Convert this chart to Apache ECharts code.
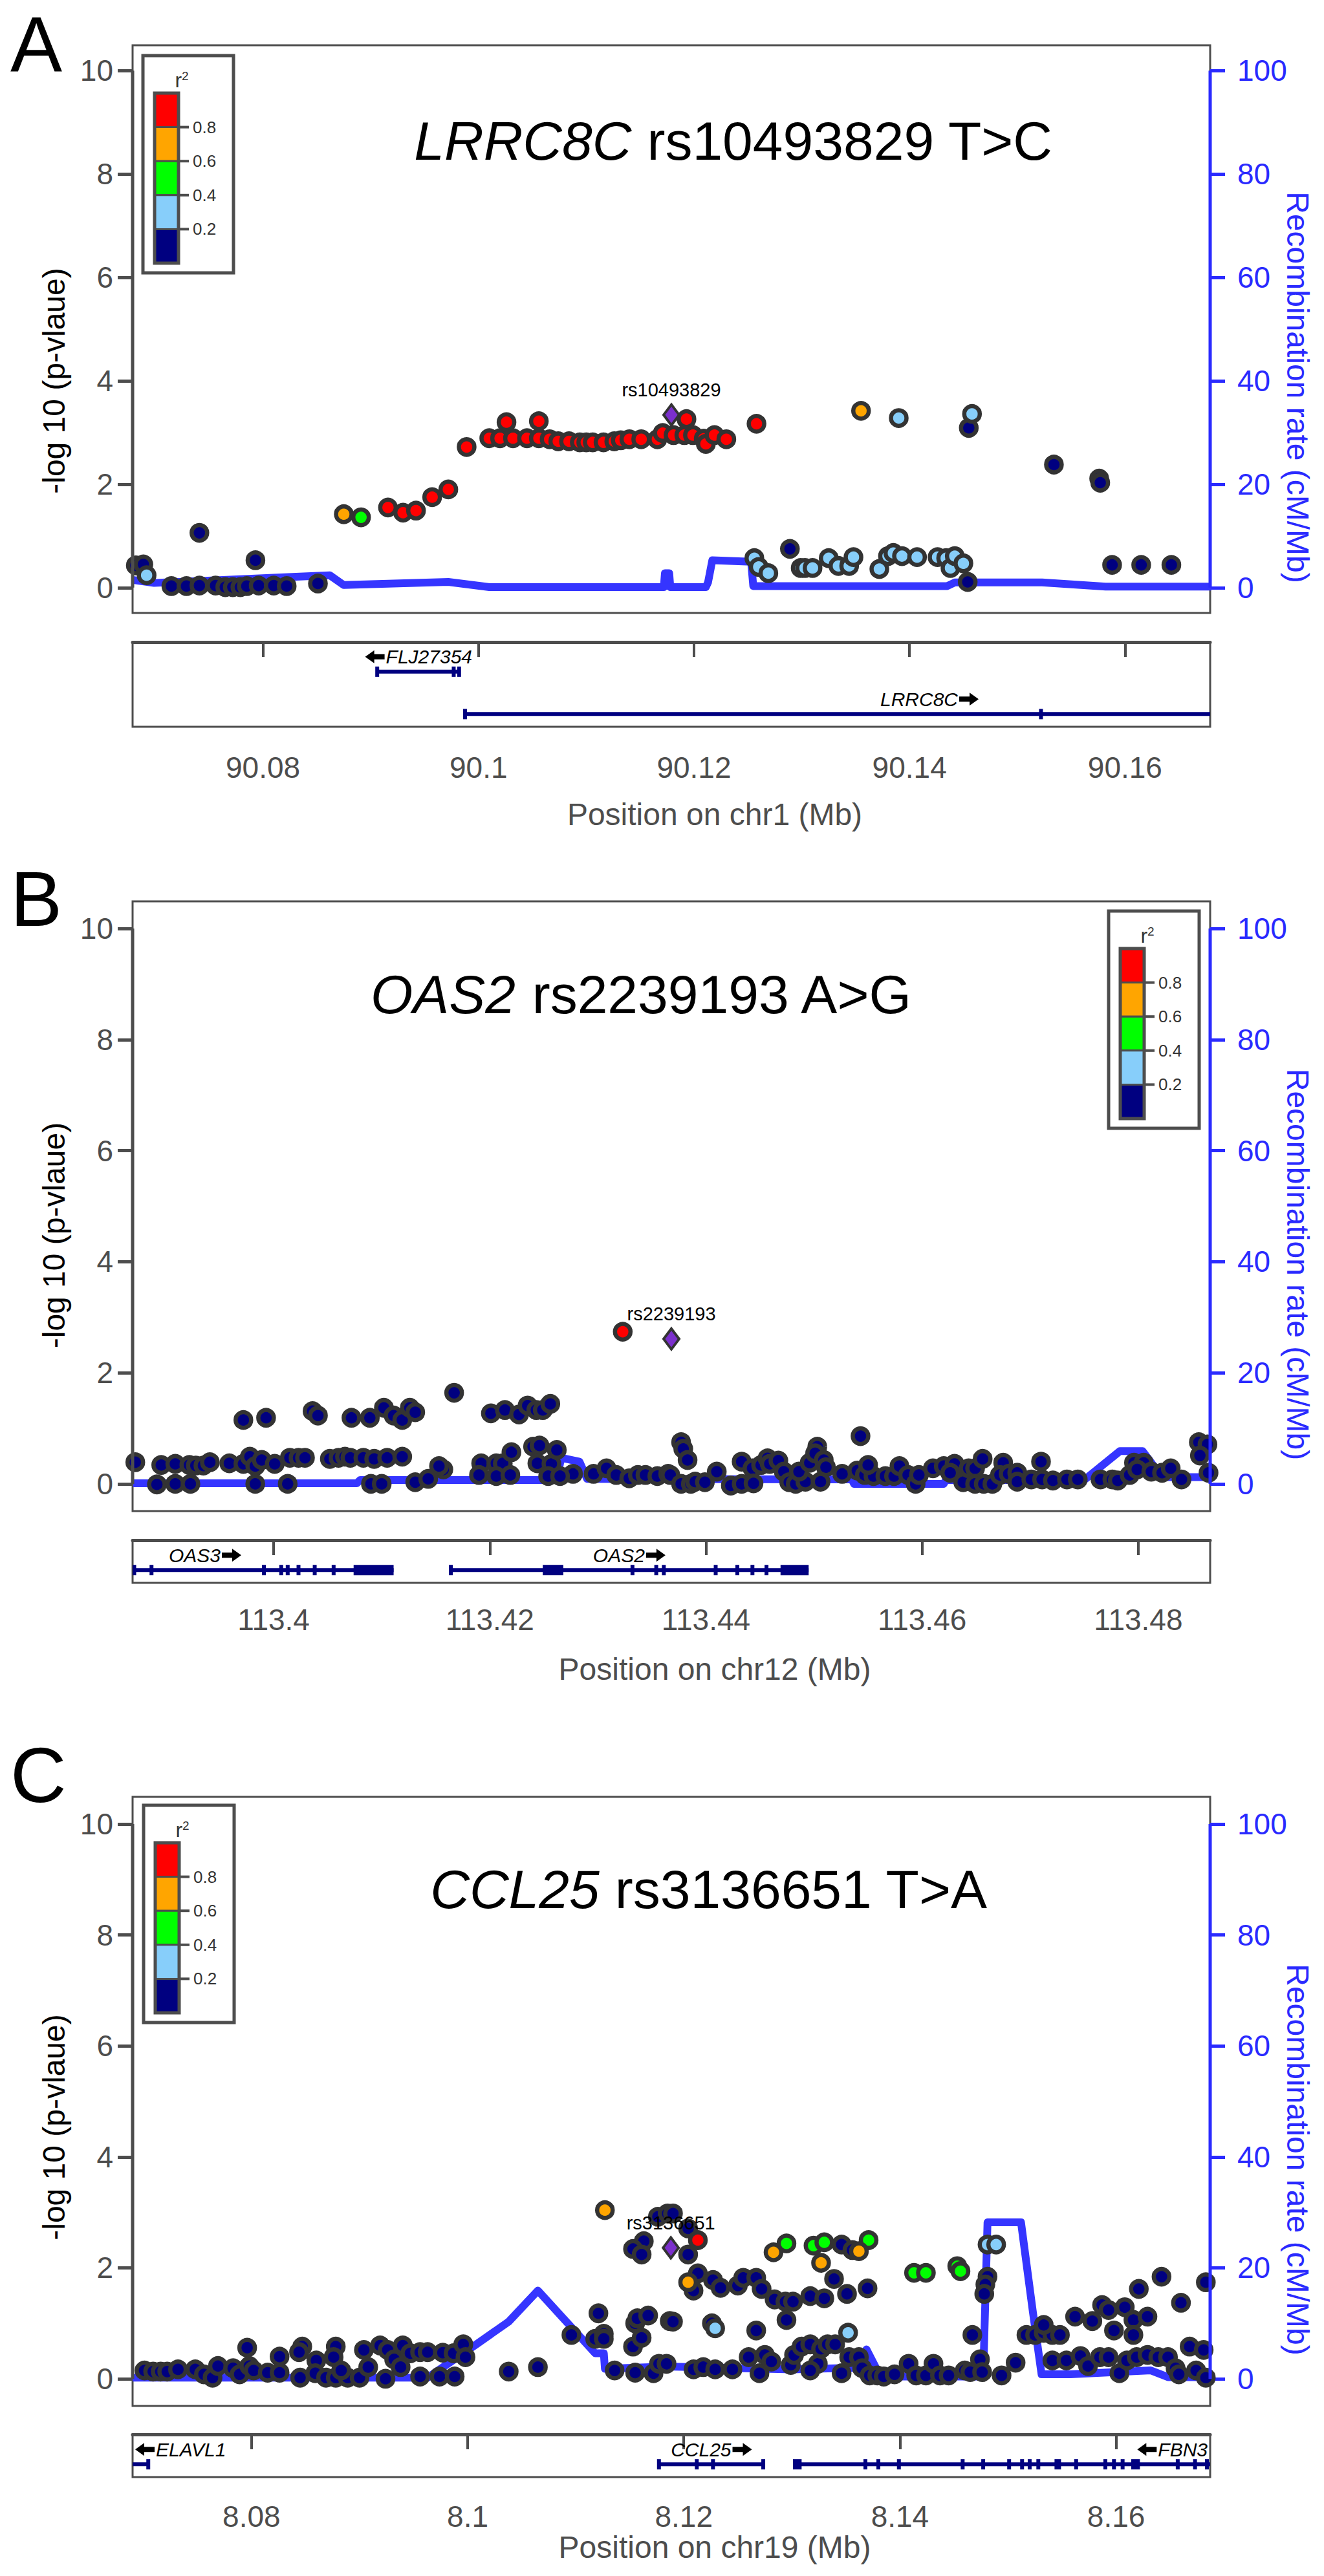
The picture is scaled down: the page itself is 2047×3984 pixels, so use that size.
<!DOCTYPE html>
<html>
<head>
<meta charset="utf-8">
<title>Regional association plots</title>
<script src="https://cdn.jsdelivr.net/npm/echarts@6/dist/echarts.min.js"></script>
<style>
html, body { margin: 0; padding: 0; background: #fff; }
#main { width: 2047px; height: 3984px; }
</style>
</head>
<body>
<div id="main"></div>
<script>
// ---------- shared ticks / legend ----------
const yTicks = [0, 2, 4, 6, 8, 10];
const recTicks = [0, 20, 40, 60, 80, 100];
const legendTicks = ['0.8', '0.6', '0.4', '0.2'];

// ---------- panel A : LRRC8C ----------
const aXTicks = [90.08, 90.1, 90.12, 90.14, 90.16];
const aNavy = [[90.0682,0.43],[90.0689,0.45],[90.0715,0.03],[90.0729,0.03],[90.0741,0.04],[90.0756,0.04],[90.0765,0.01],[90.0772,0.01],[90.0779,0.01],[90.0785,0.03],[90.0796,0.04],[90.0810,0.04],[90.0822,0.03],[90.0741,1.06],[90.0793,0.53],[90.0851,0.08],[90.1289,0.75],[90.1454,0.11],[90.1455,3.09],[90.1534,2.38],[90.1576,2.11],[90.1577,2.03],[90.1588,0.44],[90.1615,0.44],[90.1643,0.44]];
const aLightBlue = [[90.0692,0.24],[90.1256,0.57],[90.1260,0.40],[90.1269,0.28],[90.1299,0.38],[90.1303,0.38],[90.1310,0.38],[90.1325,0.57],[90.1334,0.42],[90.1344,0.42],[90.1348,0.59],[90.1372,0.36],[90.1380,0.61],[90.1385,0.67],[90.1393,0.61],[90.1407,0.59],[90.1426,0.59],[90.1434,0.57],[90.1438,0.38],[90.1442,0.61],[90.1450,0.47],[90.1390,3.28],[90.1458,3.36]];
const aGreen = [[90.0891,1.36]];
const aOrange = [[90.0875,1.42],[90.1355,3.42]];
const aRed = [[90.0916,1.55],[90.0930,1.45],[90.0942,1.49],[90.0957,1.75],[90.0972,1.90],[90.0989,2.72],[90.1010,2.89],[90.1020,2.89],[90.1026,3.20],[90.1032,2.89],[90.1045,2.89],[90.1056,2.89],[90.1056,3.22],[90.1066,2.87],[90.1074,2.83],[90.1084,2.83],[90.1094,2.81],[90.1100,2.81],[90.1106,2.81],[90.1116,2.81],[90.1126,2.83],[90.1132,2.85],[90.1140,2.87],[90.1151,2.87],[90.1166,2.87],[90.1171,2.99],[90.1181,2.95],[90.1191,2.95],[90.1193,3.26],[90.1199,2.95],[90.1209,2.88],[90.1211,2.78],[90.1219,2.95],[90.1230,2.87],[90.1258,3.17]];
const aLead = [[90.1179,3.34]];
const aRecPos = [90.0679,90.0699,90.0820,90.0862,90.0875,90.0972,90.1010,90.1172,90.1173,90.1177,90.1178,90.1211,90.1213,90.1217,90.1253,90.1255,90.1435,90.1442,90.1523,90.1582,90.1680];
const aRecRate = [1.5,0.9,2.0,2.4,0.5,1.1,0.1,0.1,2.8,2.8,0.1,0.1,1.0,5.3,5.0,0.3,0.3,1.0,1.0,0.2,0.2];
// name, start, end, strand, row
const aGenes = [['FLJ27354',90.0906,90.0983,-1,0],['LRRC8C',90.0986,90.1851,1,1]];
const aExons = [[90.0905,90.0907,0],[90.0976,90.0978,0],[90.0981,90.0983,0],[90.0986,90.0989,1],[90.1521,90.1523,1]];

// ---------- panel B : OAS2 ----------
const bXTicks = [113.4, 113.42, 113.44, 113.46, 113.48];
const bNavy = [[113.3972,1.15],[113.3993,1.19],[113.4036,1.31],[113.4041,1.23],[113.4072,1.19],[113.4089,1.19],[113.4102,1.37],[113.4111,1.23],[113.4119,1.15],[113.4126,1.37],[113.4131,1.29],[113.4167,1.64],[113.4201,1.27],[113.4214,1.33],[113.4227,1.25],[113.4235,1.41],[113.4243,1.33],[113.4249,1.33],[113.4256,1.44],
  [113.3872,0.39],[113.3896,0.34],[113.3909,0.36],[113.3922,0.34],[113.3928,0.33],[113.3935,0.33],[113.3941,0.39],[113.3959,0.37],[113.3972,0.36],[113.3978,0.49],[113.3983,0.32],[113.3989,0.43],[113.4001,0.36],[113.4015,0.47],[113.4023,0.47],[113.4029,0.47],[113.4052,0.45],[113.4060,0.47],[113.4066,0.49],[113.4071,0.47],[113.4083,0.47],[113.4093,0.45],[113.4105,0.47],[113.4119,0.49],[113.4157,0.26],[113.4153,0.32],[113.4192,0.37],[113.4206,0.37],[113.4212,0.37],[113.4220,0.57],[113.4240,0.67],[113.4246,0.69],[113.4244,0.37],[113.4257,0.36],[113.4262,0.61],[113.4277,0.18],[113.4296,0.18],[113.4308,0.28],[113.4317,0.16],[113.4329,0.10],[113.4337,0.16],[113.4344,0.16],[113.4355,0.14],[113.4365,0.18],
  [113.3892,-0.01],[113.3909,0.0],[113.3923,0.0],[113.3983,0.0],[113.4013,0.0],[113.4090,0.0],[113.4100,0.0],[113.4131,0.03],[113.4143,0.09],[113.4190,0.16],[113.4206,0.14],[113.4219,0.16],[113.4254,0.14],[113.4265,0.14],
  [113.4367,0.16],[113.4377,0.75],[113.4379,0.63],[113.4383,0.43],[113.4377,0.0],[113.4386,0.0],[113.4390,0.04],[113.4399,0.03],[113.4410,0.22],[113.4423,-0.03],[113.4433,0.40],[113.4433,0.0],[113.4443,0.28],[113.4444,0.01],[113.4451,0.34],[113.4457,0.46],[113.4459,0.36],[113.4467,0.42],[113.4472,0.22],[113.4477,0.03],[113.4483,0.0],[113.4492,0.04],[113.4486,0.22],[113.4496,0.38],[113.4503,0.67],[113.4501,0.55],[113.4509,0.43],[113.4511,0.30],[113.4506,0.04],[113.4526,0.18],[113.4540,0.24],[113.4547,0.16],[113.4555,0.14],[113.4550,0.34],[113.4543,0.86],[113.4566,0.14],[113.4574,0.14],[113.4579,0.32],[113.4587,0.16],[113.4594,0.0],[113.4597,0.16],[113.4610,0.28],[113.4620,0.32],[113.4630,0.36],[113.4626,0.20],[113.4638,0.03],[113.4643,0.28],[113.4649,0.28],[113.4656,0.45],[113.4649,0.0],[113.4657,0.0],[113.4665,0.0],[113.4675,0.38],[113.4672,0.16],[113.4680,0.18],[113.4688,0.20],[113.4688,0.04],[113.4701,0.08],[113.4710,0.40],[113.4711,0.08],[113.4721,0.06],[113.4734,0.08],[113.4744,0.08],[113.4765,0.08],[113.4776,0.08],[113.4781,0.06],[113.4792,0.16],[113.4796,0.38],[113.4805,0.38],[113.4799,0.26],[113.4812,0.22],[113.4822,0.20],[113.4830,0.28],[113.4840,0.08],[113.4856,0.75],[113.4864,0.71],[113.4857,0.51],[113.4865,0.20]];
const bLightBlue = [];
const bGreen = [];
const bOrange = [];
const bRed = [[113.4323,2.74]];
const bLead = [[113.4368,2.61]];
const bRecPos = [113.3870,113.4077,113.4080,113.4262,113.4266,113.4283,113.4290,113.4535,113.4537,113.4620,113.4622,113.4750,113.4783,113.4804,113.4822,113.4866];
const bRecRate = [0.1,0.1,0.7,0.7,4.7,4.0,0.9,0.8,0.0,0.0,0.7,0.7,5.9,5.9,1.2,1.2];
const bGenes = [['OAS3',113.3762,113.4111,1,0],['OAS2',113.4163,113.4495,1,0]];
const bExons = [[113.3870,113.3872,0],[113.3886,113.3888,0],[113.3990,113.3992,0],[113.4006,113.4008,0],[113.4012,113.4014,0],[113.4022,113.4024,0],[113.4037,113.4039,0],[113.4054,113.4057,0],[113.4074,113.4111,0],[113.4163,113.4165,0],[113.4249,113.4268,0],[113.4331,113.4333,0],[113.4353,113.4355,0],[113.4360,113.4362,0],[113.4408,113.4410,0],[113.4428,113.4430,0],[113.4442,113.4444,0],[113.4455,113.4457,0],[113.4469,113.4495,0]];

// ---------- panel C : CCL25 ----------
const cXTicks = [8.08, 8.1, 8.12, 8.14, 8.16];
const cNavy = [[8.0701,0.15],[8.0709,0.13],[8.0716,0.13],[8.0722,0.13],[8.0732,0.17],[8.0748,0.17],[8.0756,0.08],[8.0764,0.02],[8.0769,0.23],[8.0783,0.19],[8.0789,0.08],[8.0796,0.56],[8.0798,0.23],[8.0802,0.15],[8.0815,0.11],[8.0826,0.40],[8.0826,0.11],[8.0845,0.02],[8.0847,0.58],[8.0844,0.48],[8.0860,0.33],[8.0859,0.10],[8.0869,0.02],[8.0878,0.02],[8.0889,0.02],[8.0900,0.02],[8.0878,0.58],[8.0876,0.39],[8.0883,0.15],[8.0904,0.52],[8.0908,0.21],[8.0919,0.60],[8.0926,0.52],[8.0924,0.0],[8.0932,0.35],[8.0938,0.21],[8.0940,0.60],[8.0947,0.46],[8.0956,0.48],[8.0963,0.48],[8.0956,0.04],[8.0974,0.04],[8.0977,0.47],[8.0988,0.04],[8.0987,0.46],[8.0996,0.62],[8.0998,0.39],[8.1038,0.13],[8.1065,0.21],[8.1096,0.79],[8.1121,1.18],[8.1118,0.72],[8.1126,0.81],[8.1126,0.72],[8.1136,0.15],[8.1155,0.11],[8.1153,0.58],[8.1155,1.0],[8.1157,1.09],[8.1161,0.74],[8.1167,1.14],[8.1172,0.10],[8.1177,0.27],[8.1187,1.04],
  [8.1176,2.92],[8.1185,2.98],[8.1163,2.48],[8.1153,2.34],[8.1161,2.24],[8.1190,2.98],[8.1204,2.71],[8.1204,2.24],
  [8.1213,1.90],[8.1209,1.59],[8.1227,1.78],[8.1234,1.64],[8.1250,1.68],[8.1255,1.82],[8.1267,1.82],[8.1272,1.62],[8.1284,1.43],[8.1294,1.39],[8.1301,1.39],[8.1317,1.49],[8.1330,1.45],[8.1339,1.80],[8.1351,1.53],[8.1370,1.63],[8.1346,2.42],[8.1356,2.32],[8.1481,1.84],[8.1479,1.70],[8.1478,1.53],[8.1190,1.03],[8.1226,1.0],[8.1267,0.87],[8.1295,1.06],[8.1467,0.79],[8.1517,0.79],[8.1525,0.79],[8.1533,0.83],[8.1541,0.79],[8.1548,0.79],[8.1533,0.97],[8.1562,1.12],[8.1578,1.04],[8.1587,1.33],[8.1593,1.24],[8.1598,0.87],[8.1608,1.29],[8.1616,1.06],[8.1616,0.79],[8.1629,1.12],[8.1621,1.62],[8.1642,1.84],[8.1660,1.37],[8.1683,1.74],
  [8.1184,0.27],[8.1209,0.17],[8.1218,0.21],[8.1229,0.17],[8.1245,0.17],[8.1260,0.39],[8.1270,0.10],[8.1275,0.43],[8.1281,0.31],[8.1299,0.25],[8.1302,0.43],[8.1309,0.58],[8.1317,0.62],[8.1324,0.27],[8.1317,0.15],[8.1327,0.54],[8.1333,0.62],[8.1340,0.62],[8.1346,0.10],[8.1353,0.39],[8.1362,0.39],[8.1365,0.19],[8.1372,0.06],[8.1379,0.06],[8.1385,0.04],[8.1395,0.08],[8.1408,0.27],[8.1415,0.06],[8.1424,0.06],[8.1431,0.27],[8.1437,0.06],[8.1445,0.06],[8.1460,0.15],[8.1465,0.12],[8.1474,0.35],[8.1476,0.12],[8.1494,0.06],[8.1507,0.29],[8.1541,0.33],[8.1554,0.33],[8.1567,0.41],[8.1574,0.23],[8.1585,0.39],[8.1593,0.39],[8.1603,0.10],[8.1610,0.33],[8.1619,0.39],[8.1629,0.43],[8.1639,0.39],[8.1648,0.39],[8.1655,0.19],[8.1658,0.08],[8.1668,0.58],[8.1674,0.15],[8.1681,0.52],[8.1683,0.02]];
const cLightBlue = [[8.1229,0.91],[8.1352,0.83],[8.1481,2.42],[8.1489,2.42]];
const cGreen = [[8.1295,2.44],[8.1320,2.40],[8.1330,2.46],[8.1371,2.50],[8.1413,1.91],[8.1424,1.91],[8.1453,2.03],[8.1456,1.94]];
const cOrange = [[8.1127,3.04],[8.1283,2.28],[8.1362,2.30],[8.1327,2.09],[8.1204,1.74]];
const cRed = [[8.1213,2.50]];
const cLead = [[8.1188,2.36]];
const cRecPos = [8.0690,8.0963,8.1008,8.1038,8.1065,8.1118,8.1126,8.1127,8.1184,8.1300,8.1365,8.1369,8.1379,8.1384,8.1477,8.1481,8.1512,8.1523,8.1531,8.1558,8.1632,8.1648,8.1687];
const cRecRate = [0.2,0.2,6.2,10.3,15.9,4.6,4.6,1.8,2.2,1.7,2.0,5.3,1.5,0.4,0.4,28.2,28.2,12.0,0.8,0.8,1.5,0.3,0.3];
const cGenes = [['ELAVL1',8.0234,8.0706,-1,0],['CCL25',8.1176,8.1275,1,0],['FBN3',8.1303,8.2129,-1,0]];
const cExons = [[8.0703,8.0706,0],[8.1176,8.1178,0],[8.1211,8.1213,0],[8.1226,8.1228,0],[8.1272,8.1275,0],[8.1301,8.1309,0],[8.1367,8.1369,0],[8.1379,8.1381,0],[8.1398,8.1400,0],[8.1457,8.1459,0],[8.1476,8.1478,0],[8.1500,8.1502,0],[8.1512,8.1514,0],[8.1519,8.1521,0],[8.1527,8.1529,0],[8.1543,8.1549,0],[8.1562,8.1564,0],[8.1589,8.1591,0],[8.1597,8.1599,0],[8.1605,8.1607,0],[8.1614,8.1622,0],[8.1656,8.1658,0],[8.1672,8.1674,0],[8.1683,8.1685,0]];

// ---------- styles ----------
const FONT = '"Liberation Sans", Arial, sans-serif';
const GREY = '#4d4d4d';
const BLUE = '#2a2aff';
const NAVY = '#000080';
const BIN_COLORS = ['#000080', '#87CEFA', '#00FF00', '#FFA500', '#FF0000']; // r2 0-0.2 ... 0.8-1
const GENE_FONT = 30;

const panels = [
  { letter: 'A', gene: 'LRRC8C', rest: ' rs10493829 T>C', snp: 'rs10493829', chr: 'chr1',
    xMin: 90.0679, xMax: 90.1679, xTicks: aXTicks,
    pts: [aNavy, aLightBlue, aGreen, aOrange, aRed], lead: aLead,
    recPos: aRecPos, recRate: aRecRate, genes: aGenes, exons: aExons, rows: 2,
    lay: { top: 70, height: 878, geneTop: 993, geneH: 131, labMargin: 40, letterY: 68, titleX: 1134, titleY: 218, legend: [221, 86], xTitleY: 1259, yTitleShift: 80 } },
  { letter: 'B', gene: 'OAS2', rest: ' rs2239193 A>G', snp: 'rs2239193', chr: 'chr12',
    xMin: 113.38695, xMax: 113.48665, xTicks: bXTicks,
    pts: [bNavy, bLightBlue, bGreen, bOrange, bRed], lead: bLead,
    recPos: bRecPos, recRate: bRecRate, genes: bGenes, exons: bExons, rows: 1,
    lay: { top: 1394, height: 943, geneTop: 2382, geneH: 66, labMargin: 34, letterY: 1390, titleX: 992, titleY: 1538, legend: [1714, 1409], xTitleY: 2581, yTitleShift: 45 } },
  { letter: 'C', gene: 'CCL25', rest: ' rs3136651 T>A', snp: 'rs3136651', chr: 'chr19',
    xMin: 8.0690, xMax: 8.1687, xTicks: cXTicks,
    pts: [cNavy, cLightBlue, cGreen, cOrange, cRed], lead: cLead,
    recPos: cRecPos, recRate: cRecRate, genes: cGenes, exons: cExons, rows: 1,
    lay: { top: 2779, height: 942, geneTop: 3765, geneH: 66, labMargin: 38, letterY: 2745, titleX: 1096, titleY: 2922, legend: [222, 2792], xTitleY: 3939, yTitleShift: 40 } }
];

const GRID_LEFT = 205, GRID_W = 1666;
const Y_MIN = -0.49, Y_MAX = 10.49;

// 文字宽度，用于基因名称的位置
const measureCtx = document.createElement('canvas').getContext('2d');
function textWidth(s, font) {
  measureCtx.font = font;
  return measureCtx.measureText(s).width;
}

function arrowPoints(x, cy, w, dir) {
  if (dir > 0) {
    return [[x, cy - 4], [x + w - 14, cy - 4], [x + w - 14, cy - 10], [x + w, cy], [x + w - 14, cy + 10], [x + w - 14, cy + 4], [x, cy + 4]];
  }
  return [[x + w, cy - 4], [x + 14, cy - 4], [x + 14, cy - 10], [x, cy], [x + 14, cy + 10], [x + 14, cy + 4], [x + w, cy + 4]];
}

function legendEls(x0, y0) {
  const els = [];
  els.push({ type: 'rect', z: 50, shape: { x: x0, y: y0, width: 140, height: 336 }, style: { fill: '#fff', stroke: GREY, lineWidth: 5 } });
  els.push({ type: 'text', z: 51, x: x0 + 60, y: y0 + 38,
    style: { text: '{r|r}{s|2}', align: 'center', verticalAlign: 'middle',
      rich: { r: { fontSize: 32, fontFamily: FONT, fill: '#333' }, s: { fontSize: 19, fontFamily: FONT, fill: '#333', verticalAlign: 'top' } } } });
  const top = y0 + 58, h = 52.6, bx = x0 + 18, bw = 37;
  BIN_COLORS.slice().reverse().forEach(function (c, k) {
    els.push({ type: 'rect', z: 51, shape: { x: bx, y: top + k * h, width: bw, height: h }, style: { fill: c, stroke: GREY, lineWidth: 3 } });
  });
  els.push({ type: 'rect', z: 52, shape: { x: bx, y: top, width: bw, height: h * 5 }, style: { fill: 'none', stroke: GREY, lineWidth: 5 } });
  legendTicks.forEach(function (t, k) {
    const y = top + (k + 1) * h;
    els.push({ type: 'line', z: 52, shape: { x1: bx + bw, y1: y, x2: bx + bw + 16, y2: y }, style: { stroke: GREY, lineWidth: 4 } });
    els.push({ type: 'text', z: 52, x: bx + bw + 22, y: y, style: { text: t, fontSize: 26, fontFamily: FONT, fill: '#333', align: 'left', verticalAlign: 'middle' } });
  });
  return els;
}

const option = { animation: false, grid: [], xAxis: [], yAxis: [], series: [], graphic: [] };

panels.forEach(function (p, i) {
  const L = p.lay;
  const gMain = 2 * i, gGene = 2 * i + 1;
  const yl = 3 * i, yr = 3 * i + 1, yg = 3 * i + 2;

  option.grid.push({ left: GRID_LEFT, top: L.top, width: GRID_W, height: L.height, show: true, borderColor: GREY, borderWidth: 3 });
  option.grid.push({ left: GRID_LEFT, top: L.geneTop, width: GRID_W, height: L.geneH, show: true, borderColor: GREY, borderWidth: 3 });

  option.xAxis.push({ gridIndex: gMain, type: 'value', min: p.xMin, max: p.xMax, show: false });
  option.xAxis.push({ gridIndex: gGene, type: 'value', min: p.xMin, max: p.xMax,
    axisLine: { show: true, lineStyle: { color: GREY, width: 5 } },
    axisTick: { show: true, customValues: p.xTicks, length: 23, lineStyle: { color: GREY, width: 4 } },
    axisLabel: { customValues: p.xTicks, margin: L.labMargin, fontSize: 46, fontFamily: FONT, color: GREY,
      formatter: function (v) { return String(+(+v).toFixed(2)); } },
    splitLine: { show: false } });

  option.yAxis.push({ gridIndex: gMain, type: 'value', min: Y_MIN, max: Y_MAX, position: 'left',
    axisLine: { show: false },
    axisTick: { show: true, customValues: yTicks, length: 23, lineStyle: { color: GREY, width: 5 } },
    axisLabel: { customValues: yTicks, margin: 30, fontSize: 46, fontFamily: FONT, color: GREY },
    splitLine: { show: false } });
  option.yAxis.push({ gridIndex: gMain, type: 'value', min: Y_MIN * 10, max: Y_MAX * 10, position: 'right',
    axisLine: { show: false },
    axisTick: { show: true, customValues: recTicks, length: 23, lineStyle: { color: BLUE, width: 5 } },
    axisLabel: { customValues: recTicks, margin: 42, fontSize: 46, fontFamily: FONT, color: BLUE },
    splitLine: { show: false } });
  option.yAxis.push({ gridIndex: gGene, type: 'value', min: 0, max: p.rows, inverse: true, show: false });

  // recombination rate line
  option.series.push({ type: 'line', xAxisIndex: gMain, yAxisIndex: yr, z: 2, silent: true, symbol: 'none',
    data: p.recPos.map(function (x, k) { return [x, p.recRate[k]]; }),
    lineStyle: { color: '#3535ff', width: 12, join: 'round' } });
  // axis lines drawn between first and last tick
  option.series.push({ type: 'line', xAxisIndex: gMain, yAxisIndex: yr, z: 6, silent: true, symbol: 'none', clip: false,
    data: [[p.xMax, recTicks[0]], [p.xMax, recTicks[recTicks.length - 1]]], lineStyle: { color: BLUE, width: 5 } });
  option.series.push({ type: 'line', xAxisIndex: gMain, yAxisIndex: yl, z: 6, silent: true, symbol: 'none', clip: false,
    data: [[p.xMin, yTicks[0]], [p.xMin, yTicks[yTicks.length - 1]]], lineStyle: { color: GREY, width: 5 } });

  // SNPs coloured by r2 bin
  p.pts.forEach(function (arr, k) {
    option.series.push({ type: 'scatter', xAxisIndex: gMain, yAxisIndex: yl, z: 3 + k, silent: true,
      symbol: 'circle', symbolSize: 24, data: arr,
      itemStyle: { color: BIN_COLORS[k], borderColor: '#333', borderWidth: 6.5, opacity: 1 } });
  });
  option.series.push({ type: 'scatter', xAxisIndex: gMain, yAxisIndex: yl, z: 10, silent: true,
    symbol: 'diamond', symbolSize: [24, 32], data: p.lead,
    itemStyle: { color: '#7b2fcc', borderColor: '#333', borderWidth: 4, opacity: 1 },
    label: { show: true, position: 'top', distance: 6, formatter: p.snp, fontSize: 29, fontFamily: FONT, color: '#000' } });

  // gene track
  const genes = p.genes;
  option.series.push({ type: 'custom', xAxisIndex: gGene, yAxisIndex: yg, z: 3, silent: true,
    data: genes.map(function (g) { return [g[1], g[2], g[4]]; }),
    renderItem: function (params, api) {
      const g = genes[params.dataIndex];
      const cs = params.coordSys;
      const yLine = api.coord([g[1], g[4] + 0.7])[1];
      const xa = api.coord([g[1], 0])[0], xb = api.coord([g[2], 0])[0];
      const l = Math.max(xa, cs.x), r = Math.min(xb, cs.x + cs.width);
      const tw = textWidth(g[0], 'italic ' + GENE_FONT + 'px ' + FONT), aw = 30, w = tw + aw + 2;
      let cx = (xa + xb) / 2;
      cx = Math.min(Math.max(cx, cs.x + w / 2 + 4), cs.x + cs.width - w / 2 - 4);
      const ly = yLine - 23, left = cx - w / 2;
      const textX = g[3] < 0 ? left + aw + 2 : left;
      const arrowX = g[3] < 0 ? left : left + tw + 2;
      return { type: 'group', children: [
        { type: 'rect', shape: { x: l, y: yLine - 3, width: Math.max(0, r - l), height: 6 }, style: { fill: NAVY } },
        { type: 'text', x: textX, y: ly, style: { text: g[0], fontSize: GENE_FONT, fontStyle: 'italic', fontFamily: FONT, fill: '#000', align: 'left', verticalAlign: 'middle' } },
        { type: 'polygon', shape: { points: arrowPoints(arrowX, ly, aw, g[3]) }, style: { fill: '#000' } }
      ] };
    } });
  option.series.push({ type: 'custom', xAxisIndex: gGene, yAxisIndex: yg, z: 4, silent: true,
    data: p.exons,
    renderItem: function (params, api) {
      const cs = params.coordSys;
      const x1 = api.coord([api.value(0), 0])[0], x2 = api.coord([api.value(1), 0])[0];
      const y = api.coord([0, api.value(2) + 0.7])[1];
      let l = Math.min(x1, x2), w = Math.abs(x2 - x1);
      if (w < 6) { l = (x1 + x2) / 2 - 3; w = 6; }
      const rect = echarts.graphic.clipRectByRect({ x: l, y: y - 8, width: w, height: 16 }, cs);
      return rect ? { type: 'rect', shape: rect, style: { fill: NAVY } } : null;
    } });

  // texts
  const mid = L.top + L.height / 2;
  option.graphic.push({ type: 'text', x: 16, y: L.letterY, z: 60,
    style: { text: p.letter, fontSize: 120, fontFamily: FONT, fill: '#000', align: 'left', verticalAlign: 'middle' } });
  option.graphic.push({ type: 'text', x: L.titleX, y: L.titleY, z: 60,
    style: { text: '{i|' + p.gene + '}' + p.rest, fontSize: 84, fontFamily: FONT, fill: '#000', align: 'center', verticalAlign: 'middle',
      rich: { i: { fontSize: 84, fontFamily: FONT, fontStyle: 'italic', fill: '#000' } } } });
  option.graphic.push({ type: 'text', x: 83, y: mid + L.yTitleShift, rotation: Math.PI / 2, z: 60,
    style: { text: '-log 10 (p-vlaue)', fontSize: 48, fontFamily: FONT, fill: '#000', align: 'center', verticalAlign: 'middle' } });
  option.graphic.push({ type: 'text', x: 2006, y: mid + 90, rotation: -Math.PI / 2, z: 60,
    style: { text: 'Recombination rate (cM/Mb)', fontSize: 48, fontFamily: FONT, fill: BLUE, align: 'center', verticalAlign: 'middle' } });
  option.graphic.push({ type: 'text', x: 1105, y: L.xTitleY, z: 60,
    style: { text: 'Position on ' + p.chr + ' (Mb)', fontSize: 48, fontFamily: FONT, fill: GREY, align: 'center', verticalAlign: 'middle' } });
  legendEls(L.legend[0], L.legend[1]).forEach(function (e) { option.graphic.push(e); });
});

const chart = echarts.init(document.getElementById('main'), null, { renderer: 'svg' });
chart.setOption(option);
</script>
</body>
</html>
